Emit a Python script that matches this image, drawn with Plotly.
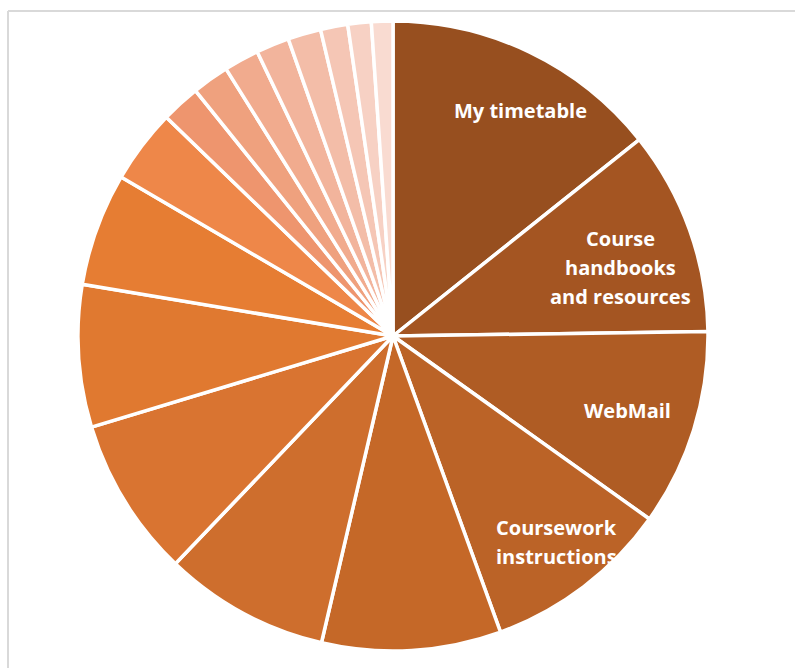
import math
import plotly.graph_objects as go

# ---- data ----
categories = [
    "My timetable", "Course handbooks and resources", "WebMail",
    "Coursework instructions", "Exam timetable", "Assessment results",
    "Library", "Module registration", "Attendance", "Careers",
    "Student profile", "Module feedback", "News", "Calendar",
    "IT support", "Finance", "Events", "Room bookings",
]
values = [14.3, 10.5, 10.1, 9.6, 9.2, 8.5, 8.2, 7.3, 5.8, 3.8,
          2.0, 1.9, 1.8, 1.7, 1.7, 1.4, 1.2, 1.1]
shown_labels = {
    "My timetable": ["My timetable"],
    "Course handbooks and resources": ["Course", "handbooks", "and resources"],
    "WebMail": ["WebMail"],
    "Coursework instructions": ["Coursework", "instructions"],
}

# ---- style ----
colors = ["#974F1F", "#A45522", "#AF5C24", "#BB6327", "#C56828", "#CE6E2D",
          "#D97431", "#E07930", "#E67D33", "#EE8749", "#EE956E", "#EFA17E",
          "#F1AB8E", "#F2B49C", "#F3BDA8", "#F5C6B5", "#F7D1C4", "#F9DBD1"]
# label placement inside slice: (fraction along slice, fraction of radius)
label_place = {
    "My timetable": (0.574, 0.824),
    "Course handbooks and resources": (0.58, 0.755),
    "WebMail": (0.51, 0.78),
    "Coursework instructions": (0.465, 0.834),
}
LINE_GAP = 29
FONT = dict(family="Open Sans", size=20, color="white", weight="bold")

W, H = 795, 668
CX, CY, R = 393, 336, 315

dom_x = [(CX - R) / W, (CX + R) / W]
dom_y = [1 - (CY + R) / H, 1 - (CY - R) / H]

fig = go.Figure(go.Pie(
    labels=categories,
    values=values,
    sort=False,
    direction="clockwise",
    rotation=0,
    marker=dict(colors=colors, line=dict(color="white", width=3.5)),
    textinfo="none",
    hoverinfo="label+percent",
    domain=dict(x=dom_x, y=dom_y),
    showlegend=False,
))

total = sum(values)
cum = 0.0
annotations = []
for cat, v in zip(categories, values):
    start = cum / total * 360
    span = v / total * 360
    cum += v
    if cat in shown_labels:
        t, rho = label_place[cat]
        a = math.radians(start + t * span)
        px = CX + rho * R * math.sin(a)
        py = CY - rho * R * math.cos(a)
        lines = shown_labels[cat]
        n = len(lines)
        for k, line in enumerate(lines):
            ly = py + (k - (n - 1) / 2) * LINE_GAP
            annotations.append(dict(
                x=px / W, y=1 - ly / H, xref="paper", yref="paper",
                text=line, showarrow=False, font=FONT,
                xanchor="center", yanchor="middle", align="center",
            ))

frame_y = 1 - 11 / H
frame_x = 8 / W
shapes = [
    dict(type="line", xref="paper", yref="paper", x0=frame_x, x1=1.01,
         y0=frame_y, y1=frame_y, line=dict(color="#D9D9D9", width=2), layer="below"),
    dict(type="line", xref="paper", yref="paper", x0=frame_x, x1=frame_x,
         y0=-0.01, y1=frame_y, line=dict(color="#D9D9D9", width=2), layer="below"),
]

fig.update_layout(
    width=W, height=H, autosize=False,
    margin=dict(l=0, r=0, t=0, b=0),
    paper_bgcolor="white", plot_bgcolor="white",
    annotations=annotations, shapes=shapes,
)

fig.write_html(
    "out.html",
    config={"displayModeBar": False},
    post_script="document.body.style.margin='0';document.body.style.overflow='hidden';",
)
